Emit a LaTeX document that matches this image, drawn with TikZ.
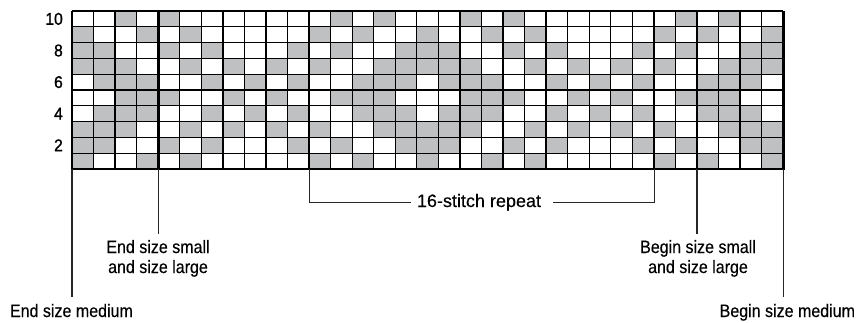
\documentclass[tikz,border=0pt]{standalone}
\usepackage{fontspec}
\setmainfont{Liberation Sans}[FakeStretch=0.89, FakeBold=0.3]
\newfontfamily\repfont{Liberation Sans}[FakeBold=0.3]
\newfontfamily\numfont{Liberation Sans}[FakeStretch=0.92, FakeBold=1.2]
\definecolor{cellgray}{RGB}{191,192,194}
\tikzset{
  gline/.style={line width=1.3pt, black},
  bigline/.style={line width=2.8pt, black},
  conn/.style={line width=1.2pt, black!85},
  lbl/.style={font=\fontsize{18}{20}\selectfont, inner sep=0pt, outer sep=0pt},
  numlbl/.style={font=\numfont\fontsize{17}{20}\selectfont, inner sep=0pt}
}
\begin{document}
\begin{tikzpicture}[x=1pt,y=-1pt]
\useasboundingbox (0,0) rectangle (859,322);
% gray cells: base 16-column pattern repeated
\foreach \i/\cols in {0/{2,4,12,14}, 1/{0,3,5,11,13}, 2/{0,1,4,6,10,12,15},
  3/{0,1,2,5,7,9,11,14,15}, 4/{1,2,3,6,8,10,13,14,15}, 5/{2,3,4,7,9,12,13,14},
  6/{1,2,3,6,8,10,13,14,15}, 7/{0,1,2,5,7,9,11,14,15}, 8/{0,1,4,6,10,12,15},
  9/{0,3,5,11,13}}{
  \foreach \c in \cols {
    \foreach \o in {0,16,32}{
      \pgfmathtruncatemacro\cc{\c+\o}
      \ifnum\cc<33
        \fill[cellgray] (72+\cc*21.55,11+\i*15.8) rectangle ++(21.55,15.8);
      \fi
    }
  }
}
% grid lines
\foreach \k in {0,...,33} \draw[gline] (72+\k*21.55,11) -- (72+\k*21.55,169);
\foreach \j in {0,...,10} \draw[gline] (72,11+\j*15.8) -- (783.15,11+\j*15.8);
\foreach \k in {0,4,29,33} \draw[bigline] (72+\k*21.55,11) -- (72+\k*21.55,169.5);
% row numbers
\node[numlbl, anchor=east] (n10) at (63,18.9) {10};
\node[numlbl, anchor=east] (n8) at (63,50.5) {8};
\node[numlbl, anchor=east] (n6) at (63,82.1) {6};
\node[numlbl, anchor=east] (n4) at (63,113.7) {4};
\node[numlbl, anchor=east] (n2) at (63,145.3) {2};
% anchor points on the lower edge
\coordinate (cEM) at (72,169);
\coordinate (cES) at (158.2,169);
\coordinate (cBS) at (697,169);
\coordinate (cBM) at (783.15,169);
\coordinate (rS) at (309.8,169);
\coordinate (rE) at (654.5,169);
% labels
\node[lbl, anchor=base west] (emL) at (10,317) {End size medium};
\node[lbl, anchor=base east] (bmL) at (855,317) {Begin size medium};
\node[lbl, align=center, anchor=north] (esL) at (158,240) {End size small\\and size large};
\node[lbl, align=center, anchor=north] (bsL) at (698,240) {Begin size small\\and size large};
\node[lbl, anchor=base] (rpL) at (479,207) {\repfont 16-stitch repeat};
% connectors
\draw[conn, shorten >=7pt] (cEM) -- (cEM |- emL.north);
\draw[conn, shorten >=7pt] (cBM) -- (cBM |- bmL.north);
\draw[conn, shorten >=6pt] (cES) -- (cES |- esL.north);
\draw[conn, shorten >=6pt] (cBS) -- (cBS |- bsL.north);
\draw[conn, shorten >=6pt] (rS) |- (rpL.west);
\draw[conn, shorten >=12pt] (rE) |- (rpL.east);
\end{tikzpicture}
\end{document}
